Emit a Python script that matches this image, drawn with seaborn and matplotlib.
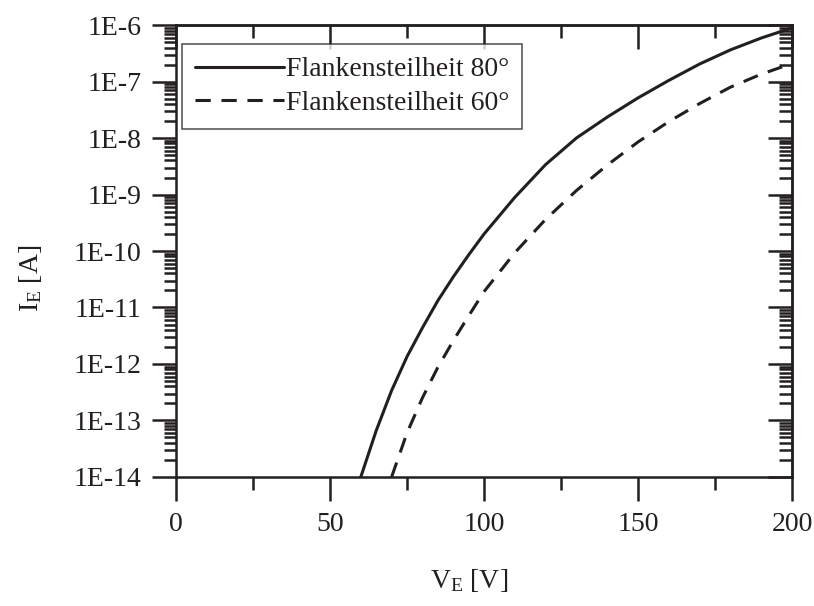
import numpy as np
import matplotlib
matplotlib.use("Agg")
import matplotlib.pyplot as plt
import matplotlib.ticker as mticker
import pandas as pd
import seaborn as sns

# values (voltage in V, log10 of current in A)
v_80 = [60, 65, 70, 75, 80, 85, 90, 95, 100, 110, 120, 130, 140, 150, 160, 170, 180, 190, 200]
log_i_80 = [-14.0, -13.18, -12.47, -11.87, -11.36, -10.88, -10.46, -10.07, -9.70, -9.05,
            -8.47, -8.0, -7.63, -7.29, -6.98, -6.69, -6.44, -6.23, -6.05]

v_60 = [70, 75, 80, 85, 90, 95, 100, 110, 120, 130, 140, 150, 160, 170, 180, 190, 200]
log_i_60 = [-14.0, -13.22, -12.6, -12.06, -11.59, -11.15, -10.72, -10.03, -9.44, -8.93,
            -8.48, -8.07, -7.71, -7.39, -7.10, -6.87, -6.68]

label_80 = "Flankensteilheit 80°"
label_60 = "Flankensteilheit 60°"

df80 = pd.DataFrame({'V': v_80, 'I': 10.0 ** np.array(log_i_80)})
df60 = pd.DataFrame({'V': v_60, 'I': 10.0 ** np.array(log_i_60)})

sns.set_style("ticks")
plt.rcParams['font.family'] = ['Liberation Serif', 'DejaVu Serif']
plt.rcParams['mathtext.fontset'] = 'custom'
plt.rcParams['mathtext.rm'] = 'Liberation Serif'
plt.rcParams['mathtext.it'] = 'Liberation Serif'

ink = '#231f20'
fs = 20

fig = plt.figure(figsize=(8.14, 6.06), dpi=100)
ax = fig.add_axes([0.2162, 0.2129, 0.7568, 0.7458])

sns.lineplot(data=df80, x='V', y='I', ax=ax, color=ink, lw=2.2, label=label_80)
sns.lineplot(data=df60, x='V', y='I', ax=ax, color=ink, lw=2.2,
             linestyle=(0, (5, 3.5)), label=label_60)

ax.set_yscale('log')
ax.set_xlim(0, 200)
ax.set_ylim(1e-14, 1e-6)

ax.xaxis.set_major_locator(mticker.MultipleLocator(50))
ax.xaxis.set_minor_locator(mticker.MultipleLocator(25))
ax.yaxis.set_major_locator(mticker.LogLocator(base=10, numticks=20))
ax.yaxis.set_minor_locator(mticker.LogLocator(base=10, subs=np.arange(2, 10), numticks=20))
ax.yaxis.set_minor_formatter(mticker.NullFormatter())
ax.yaxis.set_major_formatter(mticker.FuncFormatter(lambda y, p: "1E%d" % round(np.log10(y))))

for s in ax.spines.values():
    s.set_visible(True)
    s.set_linewidth(1.8)
    s.set_color(ink)

ax.tick_params(which='both', direction='out', color=ink, width=1.8, labelsize=fs,
               labelcolor=ink, pad=8)
ax.tick_params(which='major', length=17)
ax.tick_params(which='minor', length=9)

# mirrored ticks on top and right pointing inward
top = ax.secondary_xaxis('top')
top.xaxis.set_major_locator(mticker.MultipleLocator(50))
top.xaxis.set_minor_locator(mticker.MultipleLocator(25))
top.tick_params(which='both', direction='in', width=1.8, color=ink, labeltop=False)
top.tick_params(which='major', length=17)
top.tick_params(which='minor', length=9.5)
top.spines['top'].set_linewidth(1.8)

right = ax.secondary_yaxis('right')
right.yaxis.set_major_locator(mticker.LogLocator(base=10, numticks=20))
right.yaxis.set_minor_locator(mticker.LogLocator(base=10, subs=np.arange(2, 10), numticks=20))
right.yaxis.set_minor_formatter(mticker.NullFormatter())
right.tick_params(which='both', direction='in', width=1.8, color=ink, labelright=False)
right.tick_params(which='major', length=17)
right.tick_params(which='minor', length=9.5)
right.spines['right'].set_linewidth(1.8)

ax.set_xlabel(r"V$_\mathrm{E}$ [V]", fontsize=fs, color=ink)
ax.set_ylabel(r"I$_\mathrm{E}$ [A]", fontsize=fs, color=ink)
ax.xaxis.set_label_coords(0.475, -0.2)
ax.yaxis.set_label_coords(-0.214, 0.44)

leg = ax.legend(loc='upper left', bbox_to_anchor=(0.01, 0.957), fontsize=fs,
                frameon=True, fancybox=False, handlelength=3.2, handletextpad=0.1,
                borderpad=0.45, labelspacing=0.3, borderaxespad=0.0)
leg.get_frame().set_edgecolor(ink)
leg.get_frame().set_linewidth(1.1)
for t in leg.get_texts():
    t.set_color(ink)

fig.savefig('out.png', dpi=100)
